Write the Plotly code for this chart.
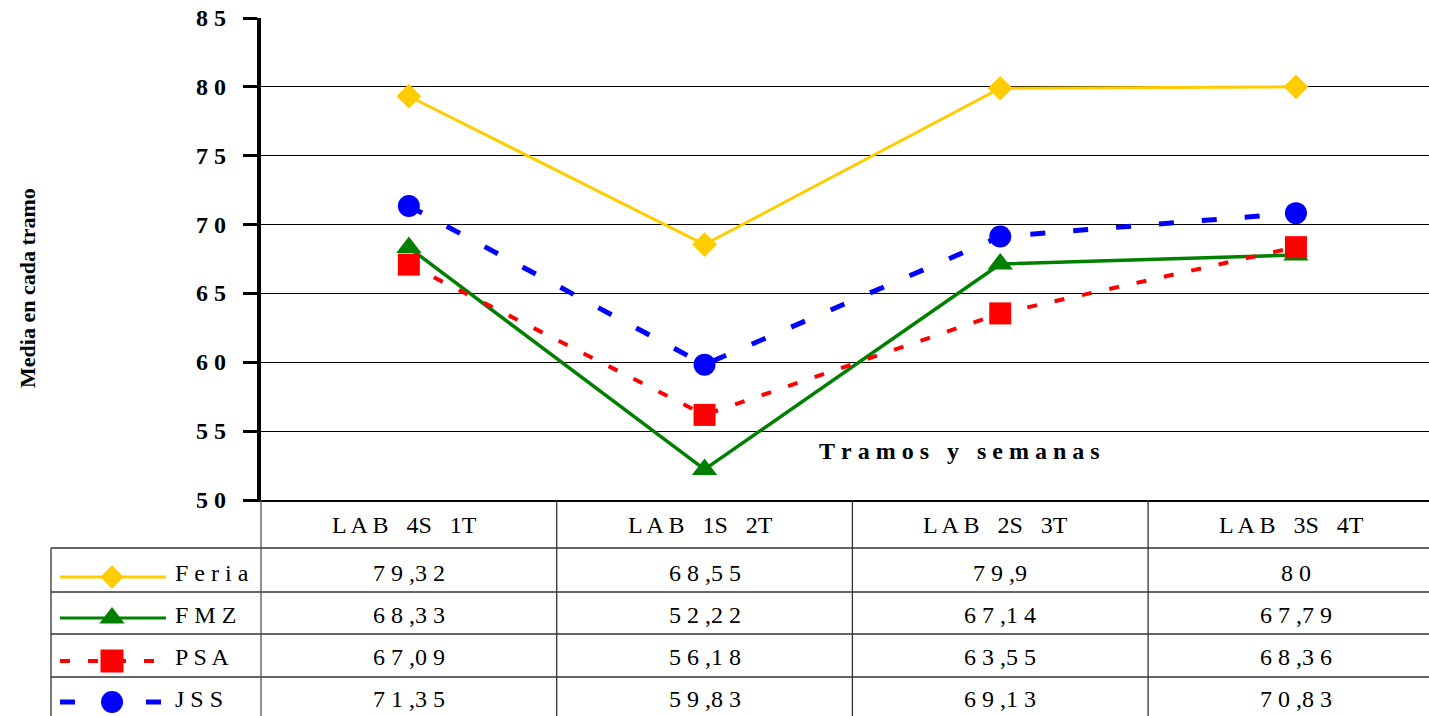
import plotly.graph_objects as go

W, H = 1429, 716

# ---------------- data ----------------
categories = ["LAB 4S 1T", "LAB 1S 2T", "LAB 2S 3T", "LAB 3S 4T"]
series_names = ["Feria", "FMZ", "PSA", "JSS"]
feria = [79.32, 68.55, 79.9, 80]
fmz = [68.33, 52.22, 67.14, 67.79]
psa = [67.09, 56.18, 63.55, 68.36]
jss = [71.35, 59.83, 69.13, 70.83]
y_tick_values = [50, 55, 60, 65, 70, 75, 80, 85]
y_title = "Media en cada tramo"
x_title = "Tramos y semanas"

series_values = [feria, fmz, psa, jss]

# ---------------- styles ----------------
styles = [
    dict(color="#FFCC00", width=3, dash="solid", symbol="diamond", size=19, key_size=18),
    dict(color="#008000", width=3.5, dash="solid", symbol="triangle-up", size=22, key_size=22),
    dict(color="#FF0000", width=4, dash="10px,18px", symbol="square", size=22, key_size=23),
    dict(color="#0000FF", width=5, dash="15px,28px", symbol="circle", size=22, key_size=22),
]
FONT = "Liberation Serif, Times New Roman, serif"
NB = "\u00a0"

PLOT_L, PLOT_R, PLOT_T, PLOT_B = 261, 1429, 18, 500
TABLE_L = 51
TICK_LABEL_RIGHT = 228
row_lines = [548, 592, 634, 677]
header_y = 525
row_text_y = [573, 615, 657, 699]
key_y = [577, 618, 661, 702]
KEY_X0, KEY_XM, KEY_X1, LABEL_X = 60, 112, 166, 173
COL_STEP = 295.7
X_LO = -0.5
X_HI = X_LO + (PLOT_R - PLOT_L) / COL_STEP


def py(p):
    return (H - p) / H


def px(p):
    return p / W


def spaced_value(v):
    s = f"{v:g}".replace(".", ",")
    return " ".join(s).replace(", ", ",")


def spaced_category(c):
    words = c.split(" ")
    first = " ".join(words[0])
    return (NB * 3).join([first] + words[1:])


def spaced_title(t):
    return (NB * 3).join(NB.join(w) for w in t.split(" "))


fig = go.Figure()

# main series
for name, vals, st in zip(series_names, series_values, styles):
    fig.add_trace(go.Scatter(
        x=list(range(len(categories))), y=vals, name=name,
        mode="lines+markers",
        line=dict(color=st["color"], width=st["width"], dash=st["dash"]),
        marker=dict(symbol=st["symbol"], size=st["size"], color=st["color"],
                    line=dict(width=0)),
        cliponaxis=False, showlegend=False, hoverinfo="skip",
    ))

# legend keys in the table (pixel overlay axes)
for i, st in enumerate(styles):
    fig.add_trace(go.Scatter(
        x=[KEY_X0, KEY_X1], y=[key_y[i], key_y[i]], mode="lines",
        line=dict(color=st["color"], width=st["width"] if st["dash"] != "solid" else 3,
                  dash=st["dash"]),
        xaxis="x2", yaxis="y2", showlegend=False, hoverinfo="skip", cliponaxis=False,
    ))
    fig.add_trace(go.Scatter(
        x=[KEY_XM], y=[key_y[i]], mode="markers",
        marker=dict(symbol=st["symbol"], size=st["key_size"], color=st["color"],
                    line=dict(width=0)),
        xaxis="x2", yaxis="y2", showlegend=False, hoverinfo="skip", cliponaxis=False,
    ))

shapes = []
line_col = "#333333"
for yl in row_lines:
    shapes.append(dict(type="line", xref="paper", yref="paper",
                       x0=px(TABLE_L), x1=1, y0=py(yl), y1=py(yl),
                       line=dict(color=line_col, width=1.3)))
shapes.append(dict(type="line", xref="paper", yref="paper",
                   x0=px(TABLE_L), x1=px(TABLE_L), y0=py(row_lines[0]), y1=0,
                   line=dict(color=line_col, width=1.3)))
shapes.append(dict(type="line", xref="paper", yref="paper",
                   x0=px(PLOT_L), x1=px(PLOT_L), y0=py(PLOT_B), y1=0,
                   line=dict(color="#555555", width=1.3)))
for k in range(len(categories) - 1):
    shapes.append(dict(type="line", xref="x", yref="paper",
                       x0=k + 0.5, x1=k + 0.5, y0=py(PLOT_B), y1=0,
                       line=dict(color=line_col, width=1.3)))

annotations = []
tfont = dict(family=FONT, size=24, color="black")
for k, c in enumerate(categories):
    annotations.append(dict(xref="x", yref="paper", x=k - 0.015, y=py(header_y),
                            text=spaced_category(c), showarrow=False,
                            xanchor="center", yanchor="middle", font=tfont))
    for i, vals in enumerate(series_values):
        annotations.append(dict(xref="x", yref="paper", x=k, y=py(row_text_y[i]),
                                text=spaced_value(vals[k]), showarrow=False,
                                xanchor="center", yanchor="middle", font=tfont))
for i, name in enumerate(series_names):
    annotations.append(dict(xref="paper", yref="paper", x=px(LABEL_X), y=py(row_text_y[i]),
                            text=" ".join(name), showarrow=False, xanchor="left",
                            yanchor="middle", font=tfont))

# y tick labels placed on the y scale
for v in y_tick_values:
    annotations.append(dict(xref="paper", yref="y", x=px(TICK_LABEL_RIGHT), y=v,
                            text=f"<b>{' '.join(str(v))}</b>", showarrow=False,
                            xanchor="right", yanchor="middle",
                            font=dict(family=FONT, size=24, color="black")))

annotations.append(dict(xref="paper", yref="paper", x=px(27), y=py(288),
                        text=f"<b>{y_title}</b>", textangle=-90, showarrow=False,
                        xanchor="center", yanchor="middle",
                        font=dict(family=FONT, size=22, color="black")))
annotations.append(dict(xref="paper", yref="paper", x=px(959), y=py(451),
                        text=f"<b>{spaced_title(x_title)}</b>", showarrow=False,
                        xanchor="center", yanchor="middle",
                        font=dict(family=FONT, size=24, color="black")))

fig.update_layout(
    width=W, height=H,
    margin=dict(l=0, r=0, t=0, b=0, autoexpand=False),
    paper_bgcolor="white", plot_bgcolor="rgba(0,0,0,0)",
    showlegend=False,
    xaxis=dict(domain=[px(PLOT_L), 1], range=[X_LO, X_HI], showgrid=False,
               zeroline=False, showticklabels=False, ticks="",
               showline=True, linewidth=2, linecolor="black", anchor="y",
               automargin=False, fixedrange=True),
    yaxis=dict(domain=[py(PLOT_B), py(PLOT_T)], range=[50, 85],
               tickvals=y_tick_values, showticklabels=False,
               showgrid=True, gridcolor="black", gridwidth=1, zeroline=False,
               showline=True, linewidth=4, linecolor="black",
               ticks="outside", ticklen=14, tickwidth=3, tickcolor="black",
               anchor="x", automargin=False, fixedrange=True),
    xaxis2=dict(domain=[0, 1], range=[0, W], visible=False, anchor="y2",
                automargin=False, fixedrange=True),
    yaxis2=dict(domain=[0, 1], range=[H, 0], visible=False, anchor="x2",
                automargin=False, fixedrange=True),
    shapes=shapes,
    annotations=annotations,
)

fig.write_html(
    "out.html",
    config={"displayModeBar": False},
    post_script="document.body.style.margin='0';document.body.style.overflow='hidden';",
)
